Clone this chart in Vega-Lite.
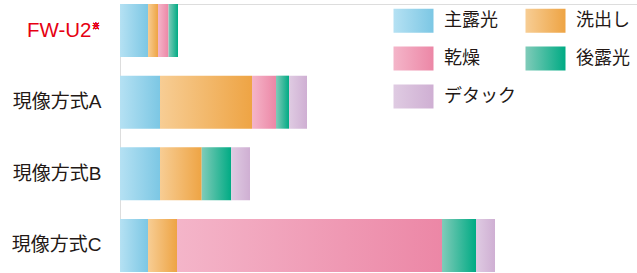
{
  "$schema": "https://vega.github.io/schema/vega-lite/v6.json",
  "autosize": "none",
  "width": 517,
  "height": 268,
  "padding": {"left": 120, "top": 4, "right": 0, "bottom": 0},
  "background": "white",
  "data": {"values": [
    {"method": "FW-U2", "phase": "主露光", "value": 28, "order": 1},
    {"method": "FW-U2", "phase": "洗出し", "value": 10, "order": 2},
    {"method": "FW-U2", "phase": "乾燥", "value": 10.5, "order": 3},
    {"method": "FW-U2", "phase": "後露光", "value": 9.5, "order": 4},
    {"method": "現像方式A", "phase": "主露光", "value": 40, "order": 1},
    {"method": "現像方式A", "phase": "洗出し", "value": 92, "order": 2},
    {"method": "現像方式A", "phase": "乾燥", "value": 24, "order": 3},
    {"method": "現像方式A", "phase": "後露光", "value": 13, "order": 4},
    {"method": "現像方式A", "phase": "デタック", "value": 18, "order": 5},
    {"method": "現像方式B", "phase": "主露光", "value": 40, "order": 1},
    {"method": "現像方式B", "phase": "洗出し", "value": 41.7, "order": 2},
    {"method": "現像方式B", "phase": "後露光", "value": 29.5, "order": 4},
    {"method": "現像方式B", "phase": "デタック", "value": 18.8, "order": 5},
    {"method": "現像方式C", "phase": "主露光", "value": 28, "order": 1},
    {"method": "現像方式C", "phase": "洗出し", "value": 29, "order": 2},
    {"method": "現像方式C", "phase": "乾燥", "value": 265, "order": 3},
    {"method": "現像方式C", "phase": "後露光", "value": 34, "order": 4},
    {"method": "現像方式C", "phase": "デタック", "value": 19, "order": 5}
  ]},
  "encoding": {
    "y": {
      "field": "method", "type": "nominal",
      "sort": ["FW-U2", "現像方式A", "現像方式B", "現像方式C"],
      "scale": {"paddingInner": 0.26, "paddingOuter": 0},
      "axis": {
        "title": null, "domain": false, "ticks": false,
        "labelFont": "Liberation Sans, Noto Sans CJK JP",
        "labelFontSize": {"condition": {"test": "datum.value == 'FW-U2'", "value": 20.5}, "value": 19},
        "labelColor": {"condition": {"test": "datum.value == 'FW-U2'", "value": "#e60012"}, "value": "#231815"},
        "labelPadding": {"condition": {"test": "datum.value == 'FW-U2'", "value": 29}, "value": 19}
      }
    },
    "x": {
      "field": "value", "type": "quantitative", "stack": "zero",
      "scale": {"domain": [0, 517], "nice": false},
      "axis": null
    },
    "order": {"field": "order", "type": "quantitative"}
  },
  "layer": [
    {
      "mark": {
        "type": "bar",
        "fill": {"expr": "datum.phase == '主露光' ? {gradient:'linear', x1:0, y1:0, x2:1, y2:0, stops:[{offset:0,color:'#b5e1f3'},{offset:1,color:'#7cc7e4'}]} : datum.phase == '洗出し' ? {gradient:'linear', x1:0, y1:0, x2:1, y2:0, stops:[{offset:0,color:'#f7cd94'},{offset:1,color:'#eea444'}]} : datum.phase == '乾燥' ? {gradient:'linear', x1:0, y1:0, x2:1, y2:0, stops:[{offset:0,color:'#f4b5c9'},{offset:1,color:'#ec87a6'}]} : datum.phase == '後露光' ? {gradient:'linear', x1:0, y1:0, x2:1, y2:0, stops:[{offset:0,color:'#80cbb9'},{offset:1,color:'#00ab84'}]} : {gradient:'linear', x1:0, y1:0, x2:1, y2:0, stops:[{offset:0,color:'#dfcbe2'},{offset:1,color:'#cfafd3'}]}"}
      },
      "encoding": {}
    },
    {
      "mark": {
        "type": "point", "opacity": 0, "filled": true,
        "stroke": "#4a3c3c", "strokeWidth": 1,
        "fill": {"expr": "(datum.phase || datum.value) == '主露光' ? {gradient:'linear', x1:0, y1:0, x2:1, y2:0, stops:[{offset:0,color:'#b5e1f3'},{offset:1,color:'#7cc7e4'}]} : (datum.phase || datum.value) == '洗出し' ? {gradient:'linear', x1:0, y1:0, x2:1, y2:0, stops:[{offset:0,color:'#f7cd94'},{offset:1,color:'#eea444'}]} : (datum.phase || datum.value) == '乾燥' ? {gradient:'linear', x1:0, y1:0, x2:1, y2:0, stops:[{offset:0,color:'#f4b5c9'},{offset:1,color:'#ec87a6'}]} : (datum.phase || datum.value) == '後露光' ? {gradient:'linear', x1:0, y1:0, x2:1, y2:0, stops:[{offset:0,color:'#80cbb9'},{offset:1,color:'#00ab84'}]} : {gradient:'linear', x1:0, y1:0, x2:1, y2:0, stops:[{offset:0,color:'#dfcbe2'},{offset:1,color:'#cfafd3'}]}"}
      },
      "encoding": {
        "stroke": {"value": "#4a3c3c"},
        "shape": {
          "field": "phase", "type": "nominal",
          "scale": {
            "domain": ["主露光", "洗出し", "乾燥", "後露光", "デタック"],
            "range": ["M-1,-0.6H1V0.6H-1Z", "M-1,-0.6H1V0.6H-1Z", "M-1,-0.6H1V0.6H-1Z", "M-1,-0.6H1V0.6H-1Z", "M-1,-0.6H1V0.6H-1Z"]
          },
          "legend": {
            "title": null, "orient": "none", "legendX": 273, "legendY": -4,
            "direction": "horizontal", "columns": 2, "padding": 0,
            "symbolSize": 1600, "symbolOpacity": 1,
            "symbolStrokeColor": "#4a3c3c", "symbolStrokeWidth": 1,
            "labelFont": "Noto Sans CJK JP", "labelFontSize": 18, "labelColor": "#231815",
            "labelOffset": 10, "columnPadding": 7, "rowPadding": 3, "symbolOffset": 0
          }
        }
      }
    },
    {
      "mark": {"type": "text", "text": "※", "fontSize": 8, "fontWeight": "normal", "color": "#e60012", "dx": -24, "dy": -4, "font": "Noto Sans CJK JP"},
      "encoding": {
        "y": {"datum": "FW-U2", "type": "nominal"},
        "x": {"datum": 0, "type": "quantitative"},
        "order": null
      }
    }
  ]
}
